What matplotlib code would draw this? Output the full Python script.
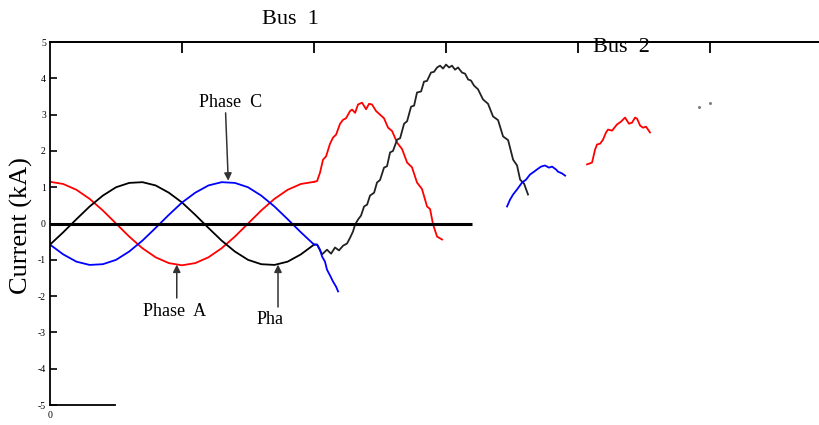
import matplotlib
matplotlib.use('Agg')
import matplotlib.pyplot as plt

# time in ms (tick spacing = 10 ms), current in kA
t_pre = [0, 1, 2, 3, 4, 5, 6, 7, 8, 9, 10, 11, 12, 13, 14, 15, 16, 17, 18, 19, 20]
red_pre = [1.15, 1.09, 0.93, 0.68, 0.36, 0, -0.36, -0.68, -0.93, -1.09, -1.15,
           -1.09, -0.93, -0.68, -0.36, 0, 0.36, 0.68, 0.93, 1.09, 1.15]
black_pre = [-0.58, -0.24, 0.12, 0.47, 0.77, 1.0, 1.12, 1.14, 1.05, 0.85, 0.58,
             0.24, -0.12, -0.47, -0.77, -1.0, -1.12, -1.14, -1.05, -0.85, -0.58]
blue_pre = [-0.58, -0.85, -1.05, -1.14, -1.12, -1.0, -0.77, -0.47, -0.12, 0.24, 0.58,
            0.85, 1.05, 1.14, 1.12, 1.0, 0.77, 0.47, 0.12, -0.24, -0.58]

t_red1 = [20.0, 20.23, 20.45, 20.68, 20.91, 21.21, 21.44, 21.67, 21.97, 22.2, 22.42, 22.73,
          22.88, 23.11, 23.33, 23.64, 23.94, 24.17, 24.39, 24.7, 25.0, 25.3, 25.61, 25.91,
          26.29, 26.67, 27.05, 27.42, 27.8, 28.18, 28.56, 28.79, 29.02, 29.32, 29.7]
red1 = [1.15, 1.17, 1.4, 1.76, 1.85, 2.2, 2.37, 2.45, 2.75, 2.86, 2.9, 3.1,
        3.14, 3.05, 3.28, 3.33, 3.15, 3.3, 3.28, 3.1, 3.0, 2.9, 2.64, 2.55,
        2.23, 2.05, 1.68, 1.55, 1.13, 0.95, 0.47, 0.4, -0.03, -0.36, -0.44]

t_black1 = [20.0, 20.23, 20.61, 20.98, 21.29, 21.59, 21.89, 22.2, 22.5, 22.73, 22.95, 23.11,
            23.33, 23.56, 23.79, 24.02, 24.24, 24.55, 24.77, 25.0, 25.3, 25.53, 25.76, 25.98,
            26.29, 26.52, 26.82, 27.05, 27.35, 27.58, 27.8, 28.11, 28.33, 28.56, 28.86, 29.09,
            29.32, 29.55, 29.77, 30.0, 30.23, 30.45, 30.68, 30.91, 31.21, 31.44, 31.67, 31.89,
            32.12, 32.42, 32.8, 33.18, 33.56, 33.94, 34.32, 34.7, 35.08, 35.38, 35.61, 35.91, 36.21]
black1 = [-0.58, -0.58, -0.85, -0.72, -0.83, -0.66, -0.74, -0.61, -0.55, -0.39, -0.22, -0.03,
          0.11, 0.22, 0.47, 0.52, 0.77, 0.85, 1.13, 1.2, 1.54, 1.58, 1.96, 2.0,
          2.31, 2.35, 2.75, 2.82, 3.22, 3.25, 3.61, 3.64, 3.91, 3.93, 4.16, 4.18,
          4.3, 4.35, 4.27, 4.38, 4.3, 4.35, 4.24, 4.3, 4.16, 4.13, 3.97, 3.94,
          3.8, 3.7, 3.42, 3.3, 2.95, 2.85, 2.4, 2.3, 1.76, 1.6, 1.21, 1.1, 0.8]

t_blue1 = [20.0, 20.23, 20.45, 20.61, 20.83, 20.98, 21.21, 21.44, 21.67, 21.82]
blue1 = [-0.58, -0.58, -0.72, -0.91, -1.05, -1.27, -1.43, -1.6, -1.74, -1.87]

t_blue2 = [34.62, 34.85, 35.08, 35.38, 35.76, 36.06, 36.36, 36.67, 36.89, 37.2, 37.5, 37.8,
           38.03, 38.33, 38.48, 38.79, 39.02]
blue2 = [0.47, 0.66, 0.8, 0.94, 1.13, 1.21, 1.35, 1.43, 1.49, 1.57, 1.6, 1.54,
         1.57, 1.49, 1.43, 1.38, 1.32]

t_red2 = [40.68, 41.06, 41.29, 41.44, 41.67, 41.89, 42.12, 42.27, 42.58, 42.95, 43.26, 43.56,
          43.86, 44.09, 44.32, 44.47, 44.7, 44.92, 45.15, 45.45]
red2 = [1.63, 1.68, 2.04, 2.18, 2.2, 2.31, 2.51, 2.59, 2.56, 2.73, 2.81, 2.92,
        2.75, 2.78, 2.92, 2.89, 2.7, 2.64, 2.67, 2.51]

t_dots = [49.17, 50.0]
dots = [3.2, 3.33]

zero_end = 32.0
top_ticks = [10, 20, 30, 40, 50]
y_ticks = [5, 4, 3, 2, 1, 0, -1, -2, -3, -4, -5]

serif = 'Liberation Serif'

fig = plt.figure(figsize=(8.19, 4.25), dpi=100)
ax = fig.add_axes([0.0611, 0.047, 0.939, 0.854])

ax.plot(t_pre, red_pre, color='red', lw=1.3)
ax.plot(t_pre, black_pre, color='black', lw=1.3)
ax.plot(t_pre, blue_pre, color='blue', lw=1.3)
ax.plot(t_red1, red1, color='red', lw=1.3)
ax.plot(t_black1, black1, color='#222222', lw=1.3)
ax.plot(t_blue1, blue1, color='blue', lw=1.3)
ax.plot(t_blue2, blue2, color='blue', lw=1.3)
ax.plot(t_red2, red2, color='red', lw=1.3)
ax.plot(t_dots, dots, ls='none', marker='o', ms=1.2, color='gray')
ax.hlines(0, 0, zero_end, color='black', lw=2.2)

ax.set_xlim(0, 58.26)
ax.set_ylim(-5, 5)

ax.spines['right'].set_visible(False)
ax.spines['bottom'].set_bounds(0, 4.9)
for s in ['left', 'top', 'bottom']:
    ax.spines[s].set_linewidth(1.3)

ax.set_yticks(y_ticks)
ax.set_yticklabels([str(v) for v in y_ticks], fontsize=7, family=serif)
ax.tick_params(axis='y', direction='in', length=5, width=1.2, pad=3)

ax.set_xticks([0])
ax.set_xticklabels(['0'], fontsize=7, family=serif)
ax.tick_params(axis='x', bottom=True, length=0, pad=4)
sec = ax.secondary_xaxis('top')
sec.set_xticks(top_ticks)
sec.set_xticklabels([])
sec.tick_params(direction='in', length=8, width=1.3)
sec.spines['top'].set_linewidth(1.3)

arrow = dict(arrowstyle='-|>', color='#333333', lw=1.1, mutation_scale=11,
             shrinkA=0, shrinkB=0)
ax.annotate('', xy=(13.5, 1.18), xytext=(13.3, 3.05), arrowprops=arrow)
ax.text(13.64, 3.33, 'Phase  C', fontsize=13, family=serif, ha='center', va='center')
ax.annotate('', xy=(9.6, -1.13), xytext=(9.6, -2.05), arrowprops=arrow)
ax.text(9.47, -2.42, 'Phase  A', fontsize=13, family=serif, ha='center', va='center')
ax.annotate('', xy=(17.27, -1.13), xytext=(17.27, -2.3), arrowprops=arrow)
ax.text(16.67, -2.64, 'Pha', fontsize=13, family=serif, ha='center', va='center')

ax.text(18.2, 5.62, 'Bus  1', fontsize=16, family=serif, ha='center', va='center',
        clip_on=False)
ax.text(43.3, 4.84, 'Bus  2', fontsize=16, family=serif, ha='center', va='center',
        clip_on=False)

fig.text(21 / 819, 1 - 226 / 425, 'Current (kA)', rotation=90, fontsize=19,
         family=serif, ha='center', va='center')

fig.savefig('out.png', dpi=100)
